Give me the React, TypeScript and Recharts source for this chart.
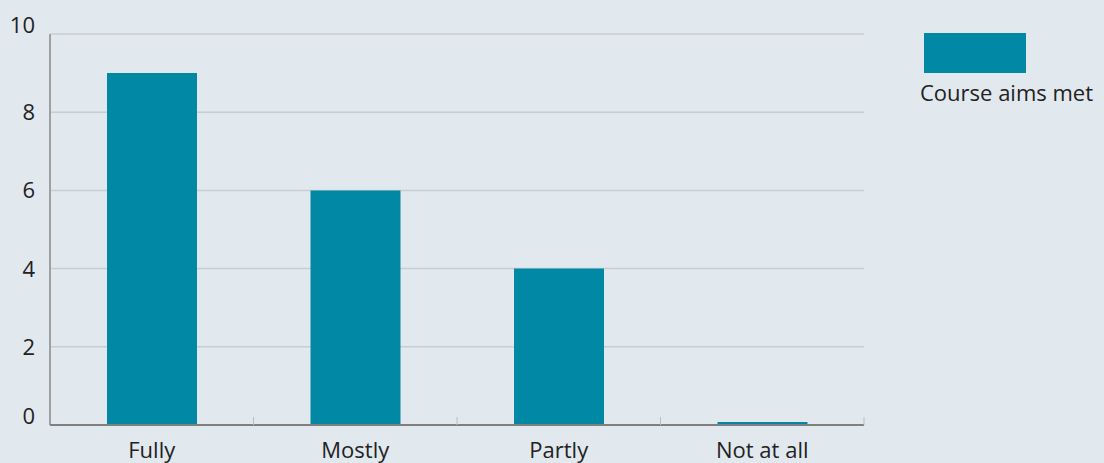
import React from 'react'
import { BarChart, Bar, XAxis, YAxis, CartesianGrid } from 'recharts'

const categories = ['Fully', 'Mostly', 'Partly', 'Not at all']
const aimsMet = [9, 6, 4, 0]
const yTicks = [0, 2, 4, 6, 8, 10]
const seriesName = 'Course aims met'

const BG = '#e1e9ef'
const TEAL = '#0088a5'
const FONT = '"Open Sans", sans-serif'

const data = categories.map((c, i) => ({ category: c, value: aimsMet[i] }))

// end labels sit just above their gridline, the rest are centred on it
function YTick({ x, y, payload }: any) {
  const edge = payload.value === 0 || payload.value === 10
  return (
    <text x={x - 7} y={edge ? y - 10 : y - 1} textAnchor="end" dominantBaseline="central"
      fill="#222" fontSize={22} fontFamily={FONT}>
      {payload.value}
    </text>
  )
}

function XTick({ x, y, payload, width, visibleTicksCount }: any) {
  const half = payload.offset ?? width / visibleTicksCount / 2
  const axisY = y - 8
  return (
    <g>
      <line x1={x + half} x2={x + half} y1={axisY - 8} y2={axisY} stroke="#b9bec2" strokeWidth={1} />
      <text x={x} y={y + 16} textAnchor="middle" dominantBaseline="central"
        fill="#222" fontSize={22} fontFamily={FONT}>
        {payload.value}
      </text>
    </g>
  )
}

function LegendBox() {
  return (
    <div style={{ position: 'absolute', left: 920, top: 33, fontFamily: FONT, fontSize: 22, color: '#222' }}>
      <div style={{ width: 102, height: 40, background: TEAL, marginLeft: 4 }} />
      <div style={{ marginTop: 4, whiteSpace: 'nowrap' }}>{seriesName}</div>
    </div>
  )
}

export default function App() {
  return (
    <div style={{ position: 'fixed', left: 0, top: 0, width: 1104, height: 463, background: BG }}>
      <BarChart width={1104} height={463} data={data}
        margin={{ top: 34, right: 240, bottom: 0, left: 0 }} barSize={90}>
        <CartesianGrid vertical={false} stroke="#c7cdd1" strokeWidth={1.5} />
        <YAxis domain={[0, 10]} ticks={yTicks} width={50} interval={0}
          axisLine={{ stroke: '#a0a0a0', strokeWidth: 2 }} tickLine={false} tick={<YTick />} />
        <XAxis dataKey="category" height={38} interval={0}
          axisLine={{ stroke: '#808080', strokeWidth: 2 }} tickLine={false} tick={<XTick />} />
        <Bar dataKey="value" name={seriesName} fill={TEAL} minPointSize={3} isAnimationActive={false} />
      </BarChart>
      <LegendBox />
    </div>
  )
}
